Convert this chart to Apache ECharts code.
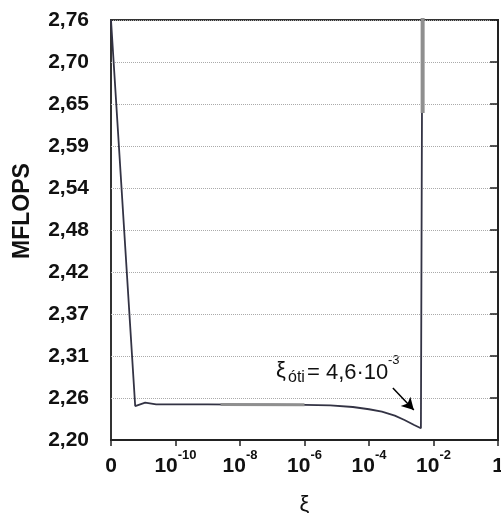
<!DOCTYPE html>
<html>
<head>
<meta charset="utf-8">
<script src="https://cdn.jsdelivr.net/npm/echarts@6/dist/echarts.min.js"></script>
<style>html,body{margin:0;padding:0;background:#fff;}#c{width:501px;height:513px;}</style>
</head>
<body>
<div id="c"></div>
<script>
// x = log10(ξ); -12 stands for ξ = 0
const xTickBase = ['0', '10', '10', '10', '10', '10', '1'];
const xTickExp  = ['', '-10', '-8', '-6', '-4', '-2', ''];
const xMin = -12, xMax = 0, xStep = 2;

const yTickLabels = ['2,20','2,26','2,31','2,37','2,42','2,48','2,54','2,59','2,65','2,70','2,76'];
const yMin = 2.20, yStep = 0.056;

// main curve
const logXi  = [-12, -11.25, -10.94, -10.6, -9, -8, -7, -6, -5.2, -4.5, -4.0, -3.6, -3.2, -2.9, -2.6, -2.39, -2.337, -2.337];
const mflops = [2.76, 2.2453, 2.2497, 2.2476, 2.2474, 2.2472, 2.2470, 2.2468, 2.2463, 2.2440, 2.2410, 2.2378, 2.2325, 2.2267, 2.2200, 2.2156, 2.2147, 2.90];

// grey overlay pieces
const greyFlatX = [-8.6, -6.0];
const greyFlatY = [2.2474, 2.2469];
const greyVertX = [-2.337, -2.337];
const greyVertY = [2.636, 2.90];

// annotation arrow (data coords)
const arrowFrom = [-3.26, 2.2693];
const arrowTo   = [-2.61, 2.2400];

const ty = v => (v - yMin) / yStep;
const pairs = (xs, ys) => xs.map((x, i) => [x, ty(ys[i])]);

const chart = echarts.init(document.getElementById('c'), null, {renderer: 'canvas'});
const FONT = '"Liberation Sans", Arial, sans-serif';

chart.setOption({
  animation: false,
  backgroundColor: '#fff',
  grid: {left: 111, right: 3, top: 20, bottom: 73, show: true, borderColor: '#333', borderWidth: 2,
         backgroundColor: 'transparent', containLabel: false, outerBoundsMode: 'none'},
  xAxis: {
    type: 'value', min: xMin, max: xMax, interval: xStep,
    name: 'ξ', nameLocation: 'middle', nameGap: 54,
    nameTextStyle: {fontSize: 22, color: '#111', fontFamily: FONT},
    axisLine: {show: true, lineStyle: {color: '#222', width: 2}},
    axisTick: {show: true, length: 6, lineStyle: {color: '#222', width: 1.5}},
    splitLine: {show: false},
    axisLabel: {
      margin: 9,
      fontFamily: FONT,
      hideOverlap: false,
      formatter: v => {
        const i = Math.round((v - xMin) / xStep);
        return xTickExp[i] ? '{b|' + xTickBase[i] + '}{s|' + xTickExp[i] + '}' : '{b|' + xTickBase[i] + '}';
      },
      rich: {
        b: {fontSize: 21, fontWeight: 'bold', color: '#111', fontFamily: FONT, lineHeight: 28, verticalAlign: 'bottom'},
        s: {fontSize: 13, fontWeight: 'bold', color: '#111', fontFamily: FONT, lineHeight: 13, verticalAlign: 'top'}
      }
    }
  },
  yAxis: {
    type: 'value', min: 0, max: yTickLabels.length - 1, interval: 1,
    axisLine: {show: true, lineStyle: {color: '#222', width: 2}},
    axisTick: {show: true, length: 8, lineStyle: {color: '#222', width: 1.5}},
    splitLine: {show: true, lineStyle: {type: 'dotted', color: '#aaa', width: 1}},
    axisLabel: {
      margin: 22, fontSize: 21, fontWeight: 'bold', color: '#111', fontFamily: FONT,
      formatter: v => yTickLabels[Math.round(v)]
    }
  },
  series: [
    {
      type: 'line', data: pairs(logXi, mflops), showSymbol: false, symbol: 'none',
      lineStyle: {color: '#333344', width: 1.8}, z: 3,
      markLine: {
        silent: true, symbol: ['none', 'arrow'], symbolSize: [10, 12],
        lineStyle: {color: '#000', width: 1.5, type: 'solid'},
        label: {show: false},
        data: [[{coord: [arrowFrom[0], ty(arrowFrom[1])]}, {coord: [arrowTo[0], ty(arrowTo[1])]}]]
      }
    },
    {type: 'line', data: pairs(greyFlatX, greyFlatY), showSymbol: false, symbol: 'none', lineStyle: {color: '#8f8f8f', width: 3}, z: 4},
    {type: 'line', data: pairs(greyVertX, greyVertY), showSymbol: false, symbol: 'none', lineStyle: {color: '#8f8f8f', width: 4}, z: 4}
  ],
  graphic: [
    {type: 'text', x: 23, y: 211, rotation: Math.PI / 2,
     style: {text: 'MFLOPS', font: 'bold 23px ' + FONT, textAlign: 'center', textVerticalAlign: 'middle', fill: '#111'}},
    {type: 'text', x: 276, y: 371,
     style: {text: 'ξ', font: '22px ' + FONT, textAlign: 'left', textVerticalAlign: 'middle', fill: '#111'}},
    {type: 'text', x: 288, y: 378,
     style: {text: 'óti', font: '16px ' + FONT, textAlign: 'left', textVerticalAlign: 'middle', fill: '#111'}},
    {type: 'text', x: 307, y: 373,
     style: {text: '= 4,6·10', font: '22px ' + FONT, textAlign: 'left', textVerticalAlign: 'middle', fill: '#111'}},
    {type: 'text', x: 388, y: 360,
     style: {text: '-3', font: '13px ' + FONT, textAlign: 'left', textVerticalAlign: 'middle', fill: '#111'}}
  ]
});
</script>
</body>
</html>
